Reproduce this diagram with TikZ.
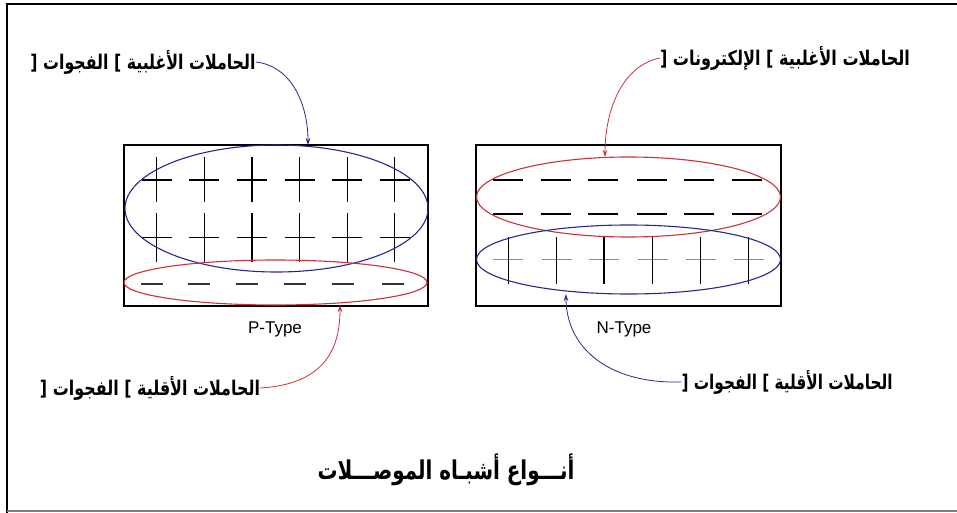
\documentclass[tikz,border=0pt]{standalone}
\usepackage{fontspec}
\usepackage{graphicx}
\setmainfont{Liberation Sans}
\newfontfamily\arabicfont[Script=Arabic]{DejaVu Sans}
\TeXXeTstate=1
\usetikzlibrary{arrows.meta,shapes.geometric}
\definecolor{myblue}{RGB}{40,40,140}
\definecolor{myred}{RGB}{200,50,60}
\tikzset{
  ell/.style={shape=ellipse,inner sep=0pt,line width=1.1pt},
  lbl/.style={inner sep=0pt,font=\arabicfont\bfseries},
  conn/.style={line width=0.8pt,-{Stealth[length=7pt,width=4.5pt]}},
  dashmark/.style={line width=1.7pt,draw=black!80},
  crossmark/.style={line width=1.2pt,draw=black},
  typelbl/.style={font=\fontsize{17}{19}\selectfont,inner sep=0pt},
}
\begin{document}
\begin{tikzpicture}[x=1pt,y=-1pt]
\useasboundingbox (0,0) rectangle (957,513);
% frame
\draw[line width=2.2pt] (7,513) -- (7,4) -- (957,4);
\draw[gray,line width=1.5pt] (7,511) -- (957,511);

% P-type
\node[draw,line width=2.2pt,inner sep=0pt,minimum width=304pt,minimum height=161pt] (pbox) at (276,225.5) {};
\foreach \x in {156.7,204.3,251.9,299.5,347.1,394.7}{
  \draw[crossmark] (\x-15,180) -- (\x+15,180);
  \draw[crossmark] (\x,157) -- (\x,202);
  \draw[crossmark] (\x-15,237.5) -- (\x+15,237.5);
  \draw[crossmark] (\x,213) -- (\x,262);
}
\foreach \x in {152,199,247,295,343,393}{
  \draw[dashmark] (\x-11,284) -- (\x+11,284);
}
\node[ell,draw=myblue,minimum width=303pt,minimum height=127pt] (pmaj) at (276.5,208.5) {};
\node[ell,draw=myred,minimum width=303pt,minimum height=45pt] (pmin) at (275.5,282.5) {};
\node[typelbl] (ptype) at (275,329) {P-Type};

% N-type
\node[draw,line width=2.2pt,inner sep=0pt,minimum width=305pt,minimum height=161pt] (nbox) at (628.5,225.5) {};
\foreach \x in {508.3,555.7,603.3,652.3,699.3,746.7}{
  \draw[dashmark,draw=black] (\x-15,180) -- (\x+15,180);
  \draw[dashmark,draw=black] (\x-15,214) -- (\x+15,214);
}
\foreach \x in {508.3,556.7,604,652.7,700.7,748.7}{
  \draw[dashmark,draw=black!45] (\x-15,259.5) -- (\x+15,259.5);
  \draw[crossmark] (\x,237) -- (\x,284);
}
\node[ell,draw=myred,minimum width=304pt,minimum height=80pt] (nmaj) at (628.5,197) {};
\node[ell,draw=myblue,minimum width=304pt,minimum height=69pt] (nmin) at (628.5,259.5) {};
\node[typelbl] (ntype) at (624,329) {N-Type};

% labels
\node[lbl] (l1) at (143,62) {\resizebox*{225pt}{24pt}{\beginR الحاملات الأغلبية ] الفجوات [\endR}};
\node[lbl] (l2) at (785,58) {\resizebox*{250pt}{24pt}{\beginR الحاملات الأغلبية ] الإلكترونات [\endR}};
\node[lbl] (l3) at (150,388) {\resizebox*{220pt}{24pt}{\beginR الحاملات الأقلية ] الفجوات [\endR}};
\node[lbl] (l4) at (787,382) {\resizebox*{211pt}{24pt}{\beginR الحاملات الأقلية ] الفجوات [\endR}};
\node[lbl] (title) at (446,470) {\resizebox*{257pt}{32pt}{\beginR أنـــواع أشبـاه الموصـــلات\endR}};

% arrow targets
\coordinate (t1) at (308,145);
\coordinate (t2) at (605,157);
\coordinate (t3) at (340,305);
\coordinate (t4) at (566,294);

\draw[conn,myblue] (l1.east) .. controls (292,66) and (308,105) .. (t1);
\draw[conn,myred] (l2.west) .. controls (622,66) and (605,110) .. (t2);
\draw[conn,myred] (l3.east) .. controls (328,384) and (340,345) .. (t3);
\draw[conn,myblue] (l4.west) .. controls (605,384) and (566,345) .. (t4);
\end{tikzpicture}
\end{document}
